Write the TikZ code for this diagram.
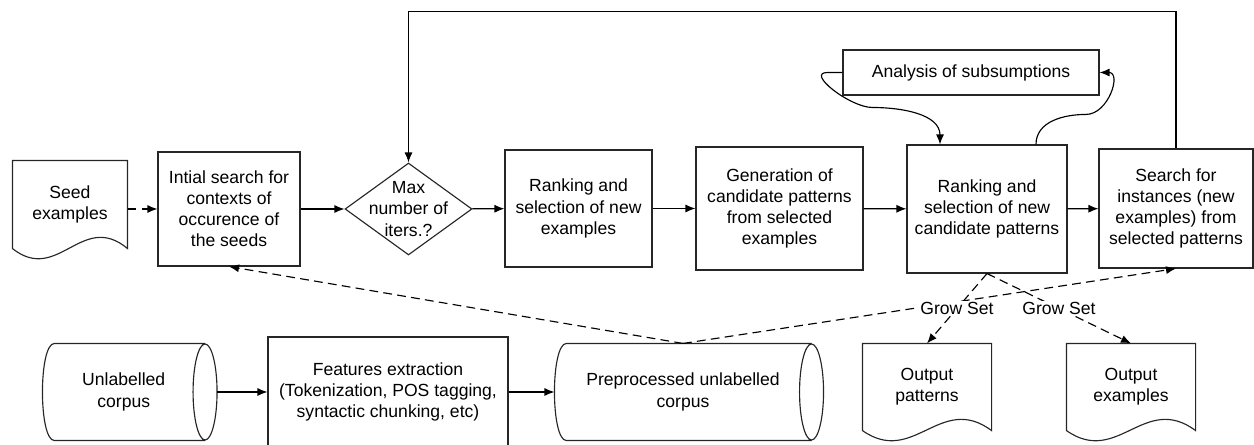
\documentclass[tikz,border=0pt]{standalone}
\usepackage{fontspec}
\setmainfont{Liberation Sans}
\usetikzlibrary{arrows.meta,shapes.geometric}
\tikzset{
	flownode/.style = {align=center, inner sep=0pt, font=\fontsize{10}{12}\selectfont},
	procbox/.style = {flownode, rectangle, draw=black!85, line width=0.65pt, fill=white},
	docnode/.style = {flownode},
	storenode/.style = {flownode},
	decision/.style = {flownode, diamond, draw=black!85, line width=0.65pt},
	flow/.style = {-{Latex[length=2mm,width=1.6mm]}, line width=0.65pt},
	feed/.style = {flow, dash pattern=on 5pt off 3pt},
}
% document symbol with a wavy lower edge
\newcommand{\docshape}[2]{%
	\draw[black!85] (#1.north west) -- (#1.north east) -- (#1.south east)
		.. controls ([shift={(-0.4*#2,-38)}]#1.south east) and ([shift={(0.4*#2,36)}]#1.south west) .. (#1.south west) -- cycle;
}
% stored data symbol, lying on its side
\newcommand{\datastore}[1]{%
	\draw[black!85] ([xshift=0.24cm]#1.north west) -- (#1.north east)
		([xshift=0.24cm]#1.south west) -- (#1.south east)
		([xshift=0.24cm]#1.north west) .. controls ([xshift=-0.08cm]#1.north west) and ([xshift=-0.08cm]#1.south west) .. ([xshift=0.24cm]#1.south west)
		(#1.east) ellipse [x radius=0.24cm, y radius=0.96cm];
}

\begin{document}
\begin{tikzpicture}[x=0.02cm, y=-0.02cm, line width=0.65pt]
	\useasboundingbox (0,0) rectangle (1254,445);
	% bootstrapping loop
	\node[docnode, minimum width=2.28cm, minimum height=1.74cm] (seed) at (70,204.5) {Seed\\examples};
	\node[procbox, minimum width=2.84cm, minimum height=2.28cm] (init) at (229,209) {Intial search for\\contexts of\\occurence of\\the seeds};
	\node[decision, minimum width=2.54cm, minimum height=1.84cm, label={[flownode]center:Max\\number of\\iters.?}] (iter) at (408.5,209) {};
	\node[procbox, minimum width=2.94cm, minimum height=2.34cm] (rex) at (578.5,208.5) {Ranking and\\selection of new\\examples};
	\node[procbox, minimum width=3.34cm, minimum height=2.46cm] (gen) at (779.5,208.5) {Generation of\\candidate patterns\\from selected\\examples};
	\node[procbox, minimum width=3.2cm, minimum height=2.56cm] (rsel) at (987,209) {Ranking and\\selection of new\\candidate patterns};
	\node[procbox, minimum width=3.08cm, minimum height=2.38cm] (srch) at (1176,208.5) {Search for\\instances (new\\examples) from\\selected patterns};
	\node[procbox, minimum width=5.12cm, minimum height=0.9cm] (ana) at (971,72.5) {Analysis of subsumptions};
	% corpus preparation and outputs
	\node[storenode, minimum width=3.23cm, minimum height=1.92cm] (unl) at (123.75,392) {Unlabelled\\corpus};
	\node[procbox, minimum width=4.8cm, minimum height=2.2cm] (feat) at (388,392) {Features extraction\\(Tokenization, POS tagging,\\syntactic chunking, etc)};
	\node[storenode, minimum width=5.12cm, minimum height=1.92cm] (prep) at (683,392) {Preprocessed unlabelled\\corpus};
	\node[docnode, minimum width=2.56cm, minimum height=1.72cm] (opat) at (927,387) {Output\\patterns};
	\node[docnode, minimum width=2.56cm, minimum height=1.72cm] (oexm) at (1131,387) {Output\\examples};
	\docshape{seed}{114}
	\docshape{opat}{128}
	\docshape{oexm}{128}
	\datastore{unl}
	\datastore{prep}

	\draw[feed] (seed.east |- init.west) -- (init.west);
	\draw[flow] (init) -- (iter);
	\draw[flow] (iter) -- (rex);
	\draw[flow] (rex) -- (gen);
	\draw[flow] (gen) -- (rsel);
	\draw[flow] (rsel) -- (srch);
	\draw[flow] (srch.north) -- ++(0,-137) -| (iter.north);
	\draw[flow] (ana.west) -- ++(-15,0) to[out=180, in=180] ++(45,35) to[out=0, in=90] ([xshift=-0.94cm]rsel.north);
	\draw[flow] ([xshift=0.98cm]rsel.north) to[out=90, in=180] ++(50,-30) to[out=0, in=0, looseness=1.3] (ana.east);

	\draw[flow] ([xshift=0.24cm]unl.east) -- (feat);
	\draw[flow] (feat.east |- prep) -- (prep.west);
	\draw[feed] (prep.north) -- (init.south);
	\draw[feed] (prep.north) -- (srch.south);
	\draw[feed] (rsel.south) -- node[flownode, fill=white, inner sep=1pt] {Grow Set} (opat.north);
	\draw[feed] (rsel.south) -- node[flownode, fill=white, inner sep=1pt] {Grow Set} (oexm.north);
\end{tikzpicture}
\end{document}
